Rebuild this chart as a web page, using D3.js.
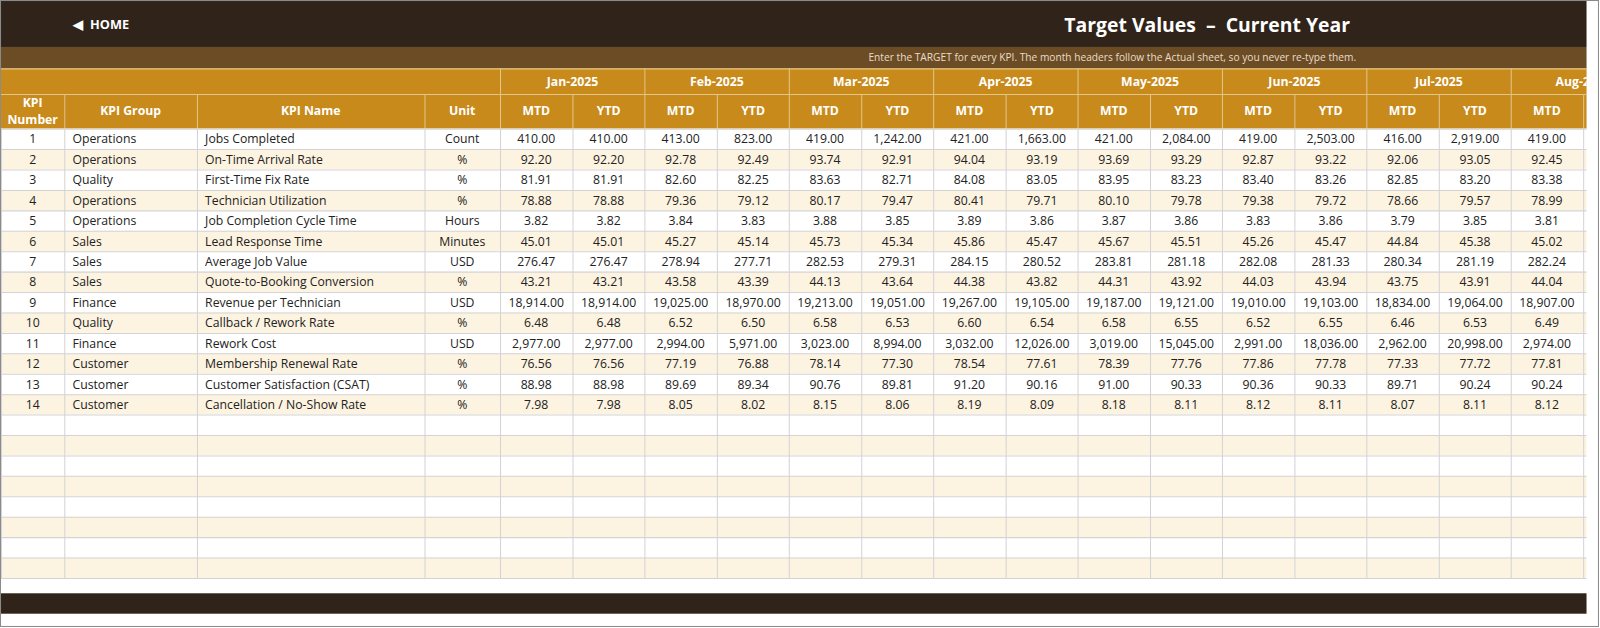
<!DOCTYPE html><html><head><meta charset="utf-8"><script src="https://cdn.jsdelivr.net/npm/d3@7"></script>
<style>body{margin:0;background:#fff}svg{display:block;font-family:"Open Sans","Noto Sans",sans-serif}text{white-space:pre}</style></head><body><svg id="c" width="1600" height="628" viewBox="0 0 1568 615" preserveAspectRatio="none"></svg>
<script>
const kpiNumbers=[1,2,3,4,5,6,7,8,9,10,11,12,13,14];
const kpiGroups=["Operations","Operations","Quality","Operations","Operations","Sales","Sales","Sales","Finance","Quality","Finance","Customer","Customer","Customer"];
const kpiNames=["Jobs Completed","On-Time Arrival Rate","First-Time Fix Rate","Technician Utilization","Job Completion Cycle Time","Lead Response Time","Average Job Value","Quote-to-Booking Conversion","Revenue per Technician","Callback / Rework Rate","Rework Cost","Membership Renewal Rate","Customer Satisfaction (CSAT)","Cancellation / No-Show Rate"];
const units=["Count","%","%","%","Hours","Minutes","USD","%","USD","%","USD","%","%","%"];
const months=["Jan-2025","Feb-2025","Mar-2025","Apr-2025","May-2025","Jun-2025","Jul-2025","Aug-2025"];
const janMTD=[410,92.20,81.91,78.88,3.82,45.01,276.47,43.21,18914,6.48,2977,76.56,88.98,7.98];
const janYTD=[410,92.20,81.91,78.88,3.82,45.01,276.47,43.21,18914,6.48,2977,76.56,88.98,7.98];
const febMTD=[413,92.78,82.60,79.36,3.84,45.27,278.94,43.58,19025,6.52,2994,77.19,89.69,8.05];
const febYTD=[823,92.49,82.25,79.12,3.83,45.14,277.71,43.39,18970,6.50,5971,76.88,89.34,8.02];
const marMTD=[419,93.74,83.63,80.17,3.88,45.73,282.53,44.13,19213,6.58,3023,78.14,90.76,8.15];
const marYTD=[1242,92.91,82.71,79.47,3.85,45.34,279.31,43.64,19051,6.53,8994,77.30,89.81,8.06];
const aprMTD=[421,94.04,84.08,80.41,3.89,45.86,284.15,44.38,19267,6.60,3032,78.54,91.20,8.19];
const aprYTD=[1663,93.19,83.05,79.71,3.86,45.47,280.52,43.82,19105,6.54,12026,77.61,90.16,8.09];
const mayMTD=[421,93.69,83.95,80.10,3.87,45.67,283.81,44.31,19187,6.58,3019,78.39,91.00,8.18];
const mayYTD=[2084,93.29,83.23,79.78,3.86,45.51,281.18,43.92,19121,6.55,15045,77.76,90.33,8.11];
const junMTD=[419,92.87,83.40,79.38,3.83,45.26,282.08,44.03,19010,6.52,2991,77.86,90.36,8.12];
const junYTD=[2503,93.22,83.26,79.72,3.86,45.47,281.33,43.94,19103,6.55,18036,77.78,90.33,8.11];
const julMTD=[416,92.06,82.85,78.66,3.79,44.84,280.34,43.75,18834,6.46,2962,77.33,89.71,8.07];
const julYTD=[2919,93.05,83.20,79.57,3.85,45.38,281.19,43.91,19064,6.53,20998,77.72,90.24,8.11];
const augMTD=[419,92.45,83.38,78.99,3.81,45.02,282.24,44.04,18907,6.49,2974,77.81,90.24,8.12];
const augYTD=[];
const monthData=[[janMTD,janYTD],[febMTD,febYTD],[marMTD,marYTD],[aprMTD,aprYTD],[mayMTD,mayYTD],[junMTD,junYTD],[julMTD,julYTD],[augMTD,augYTD]];

const svg=d3.select("#c");
const fmt=d3.format(",.2f");
const DARK="#30231a",MID="#6b4c24",GOLD="#c88a1a",CREAM="#fdf3e1",GRID="#d3d3d6";
svg.append("rect").attr("x",0.5).attr("y",0.5).attr("width",1566).attr("height",613).attr("fill","#fff").attr("stroke","#8a8a8a");
const clip=svg.append("defs").append("clipPath").attr("id","cl");clip.append("rect").attr("x",0).attr("y",0).attr("width",1555).attr("height",628);
const g=svg.append("g").attr("clip-path","url(#cl)");
g.append("rect").attr("x",1).attr("y",1).attr("width",1554).attr("height",45).attr("fill",DARK);
g.append("rect").attr("x",1).attr("y",46).attr("width",1554).attr("height",21).attr("fill",MID);
svg.append("text").attr("x",72).attr("y",28).attr("fill","#fff").attr("font-size",12.5).attr("font-weight",700).text("◀  HOME");
svg.append("text").attr("x",1323).attr("y",31).attr("text-anchor","end").attr("fill","#fff").attr("font-size",19).attr("font-weight",700).text("Target Values  –  Current Year");
svg.append("text").attr("x",1329).attr("y",60).attr("text-anchor","end").attr("fill","#e8dccb").attr("font-size",10).text("Enter the TARGET for every KPI. The month headers follow the Actual sheet, so you never re-type them.");

const fixedW=[62,130,223,74];
const subW=71;
const edges=[1];fixedW.forEach(w=>edges.push(edges[edges.length-1]+w));
const x0=edges[4];
const monthX=i=>x0+i*subW*2-i*0.5;
const rowY=d3.scaleLinear().domain([0,1]).range([126,146]);
const totalRows=22;
g.append("rect").attr("x",1).attr("y",67).attr("width",1554).attr("height",59).attr("fill",GOLD);
const hl=g.append("g").attr("stroke","#e2c58a").attr("stroke-width",1);
hl.append("line").attr("x1",1).attr("x2",1555).attr("y1",67.5).attr("y2",67.5);
hl.append("line").attr("x1",1).attr("x2",1555).attr("y1",92.5).attr("y2",92.5);
["KPI Number","KPI Group","KPI Name","Unit"].forEach((t,i)=>{
  const cx=(edges[i]+edges[i+1])/2;
  if(i>0) hl.append("line").attr("x1",edges[i]+.5).attr("x2",edges[i]+.5).attr("y1",92).attr("y2",126);
  const tx=g.append("text").attr("x",cx).attr("fill","#fff").attr("font-size",12).attr("font-weight",700).attr("text-anchor","middle");
  if(i==0){tx.append("tspan").attr("x",cx).attr("y",105).text("KPI");tx.append("tspan").attr("x",cx).attr("y",121).text("Number");}
  else tx.attr("y",113).text(t);
});
months.forEach((m,i)=>{
  const mx=monthX(i);
  hl.append("line").attr("x1",mx+.5).attr("x2",mx+.5).attr("y1",67).attr("y2",126);
  hl.append("line").attr("x1",mx+subW+.5).attr("x2",mx+subW+.5).attr("y1",92).attr("y2",126);
  g.append("text").attr("x",mx+subW).attr("y",84).attr("text-anchor","middle").attr("fill","#fff").attr("font-size",12).attr("font-weight",700).text(m);
  ["MTD","YTD"].forEach((s,j)=>g.append("text").attr("x",mx+subW*j+subW/2).attr("y",113).attr("text-anchor","middle").attr("fill","#fff").attr("font-size",12).attr("font-weight",700).text(s));
});
const allX=edges.slice(0,4).concat(d3.range(17).map(k=>x0+k*subW-Math.floor(k/2)*0.5));
for(let r=0;r<totalRows;r++){
  g.append("rect").attr("x",1).attr("y",rowY(r)).attr("width",1554).attr("height",20).attr("fill",r%2?CREAM:"#fff");
}
const gl=g.append("g").attr("stroke",GRID);
for(let r=0;r<=totalRows;r++) gl.append("line").attr("x1",1).attr("x2",1555).attr("y1",rowY(r)+.5).attr("y2",rowY(r)+.5);
allX.concat([1555]).forEach(x=>gl.append("line").attr("x1",x+.5).attr("x2",x+.5).attr("y1",126).attr("y2",rowY(totalRows)));
const tf=g.append("g").attr("font-size",12).attr("fill","#222");
kpiNumbers.forEach((n,r)=>{
  const y=rowY(r)+14.5;
  tf.append("text").attr("x",(edges[0]+edges[1])/2).attr("y",y).attr("text-anchor","middle").text(n);
  tf.append("text").attr("x",edges[1]+8).attr("y",y).text(kpiGroups[r]);
  tf.append("text").attr("x",edges[2]+8).attr("y",y).text(kpiNames[r]);
  tf.append("text").attr("x",(edges[3]+edges[4])/2).attr("y",y).attr("text-anchor","middle").text(units[r]);
  monthData.forEach((md,i)=>md.forEach((arr,j)=>{
    if(arr[r]==null) return;
    tf.append("text").attr("x",monthX(i)+subW*j+subW/2).attr("y",y).attr("text-anchor","middle").text(fmt(arr[r]));
  }));
});
g.append("rect").attr("x",1).attr("y",581).attr("width",1554).attr("height",20).attr("fill",DARK);
</script></body></html>
